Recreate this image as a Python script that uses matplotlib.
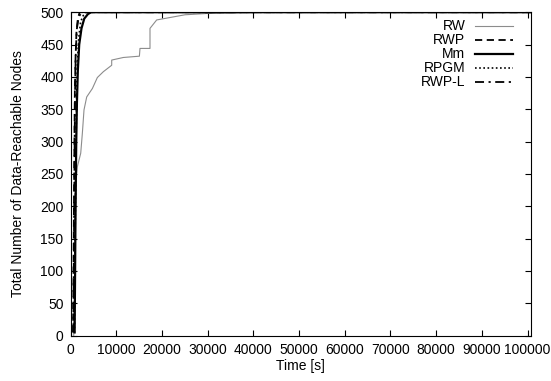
import matplotlib
matplotlib.use("Agg")
import matplotlib.pyplot as plt
import numpy as np

plt.rcParams['font.family'] = ['Liberation Sans', 'DejaVu Sans']
plt.rcParams['font.size'] = 10

# data (time in s, reachable nodes)
rw_t = [700, 850, 1000, 1150, 1300, 1490, 2230, 2590, 2950, 3540, 4780, 5870,
        7180, 9010, 9010, 11560, 15070, 15200, 17390, 17390, 18850, 25050,
        29800, 42000, 100800]
rw_n = [0, 50, 130, 200, 245, 261, 282, 313, 349, 369, 382, 399,
        408, 418, 426, 430, 432, 444, 444, 475, 488, 496,
        498, 500, 500]

rwp_t = [550, 650, 750, 850, 950, 1100, 1300, 1600, 2000, 100800]
rwp_n = [5, 100, 200, 300, 380, 430, 470, 490, 500, 500]

mm_t = [900, 1000, 1100, 1250, 1400, 1600, 1900, 2400, 3000, 3800, 4500, 100800]
mm_n = [5, 100, 200, 300, 360, 410, 450, 475, 490, 497, 500, 500]

rpgm_t = [850, 950, 1050, 1200, 1350, 1500, 1800, 2200, 2800, 3500, 100800]
rpgm_n = [5, 100, 200, 300, 370, 420, 460, 485, 495, 500, 500]

rwpl_t = [600, 700, 800, 900, 1000, 1150, 1400, 1800, 2500, 100800]
rwpl_n = [5, 100, 200, 300, 380, 440, 475, 493, 500, 500]

fig = plt.figure(figsize=(5.51, 3.81), dpi=100)
ax = fig.add_axes([0.128, 0.119, 0.836, 0.849])

ax.plot(rw_t, rw_n, color="#8c8c8c", lw=0.8, label="RW")
ax.plot(rwp_t, rwp_n, color="black", lw=1.3, linestyle=(0, (4, 2.5)), label="RWP")
ax.plot(mm_t, mm_n, color="black", lw=1.6, label="Mm")
ax.plot(rpgm_t, rpgm_n, color="black", lw=1.2, linestyle=(0, (1, 1.5)), label="RPGM")
ax.plot(rwpl_t, rwpl_n, color="black", lw=1.3, linestyle=(0, (5, 2.5, 1.2, 2.5)), label="RWP-L")

ax.set_xlim(0, 100800)
ax.set_ylim(0, 500)
ax.set_xticks(np.arange(0, 100001, 10000))
ax.set_yticks(np.arange(0, 501, 50))
ax.tick_params(direction="in", top=True, right=True, length=4.5, width=0.8, pad=5)
for s in ax.spines.values():
    s.set_linewidth(0.8)

ax.set_xlabel("Time [s]", labelpad=2)
ax.set_ylabel("Total Number of Data-Reachable Nodes", labelpad=11)

ax.legend(loc="upper right", frameon=False, markerfirst=False, handlelength=2.75,
          labelspacing=0.0, handletextpad=0.7, borderaxespad=0.0,
          bbox_to_anchor=(0.973, 0.995))

fig.savefig("out.png", dpi=100)
